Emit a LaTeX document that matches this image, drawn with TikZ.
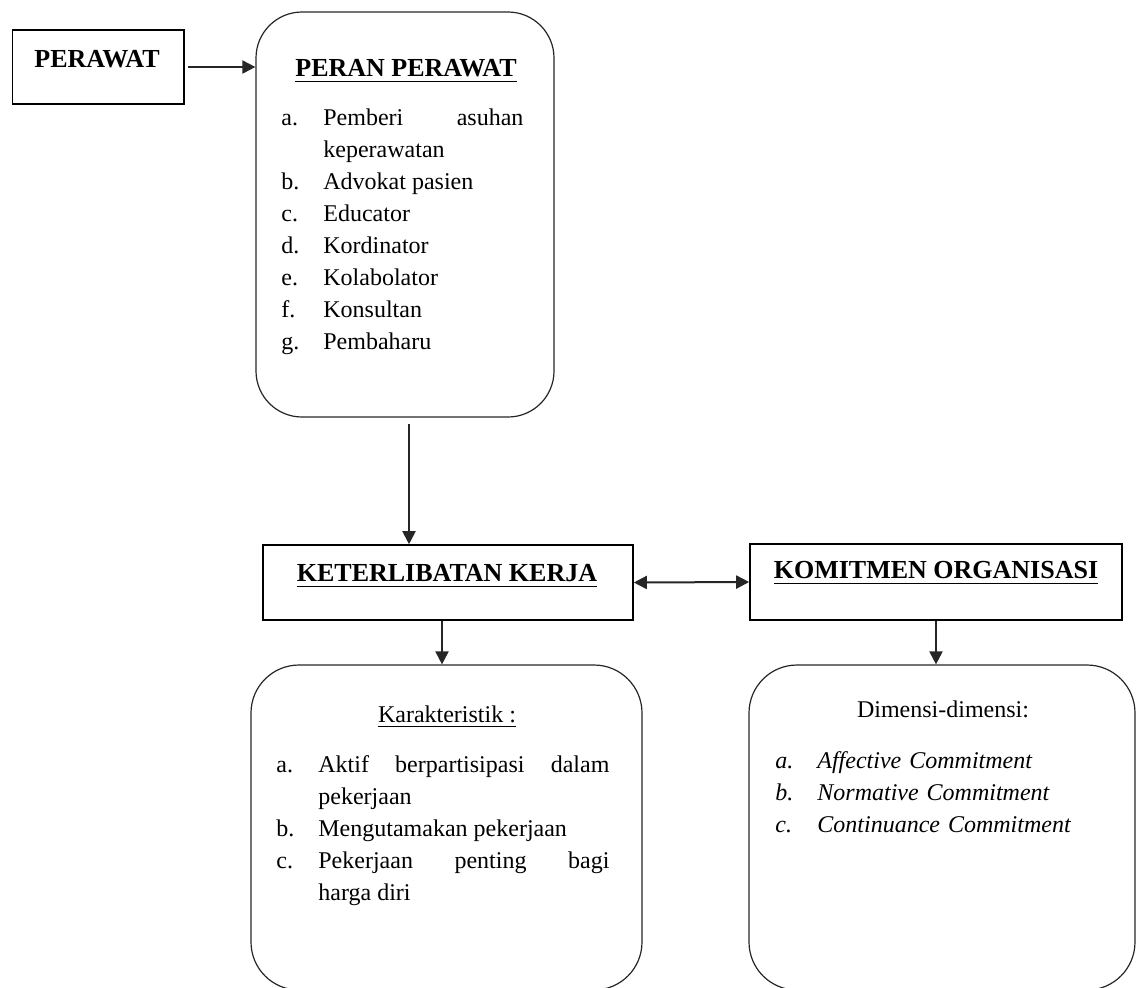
\documentclass[tikz,border=0pt]{standalone}
\usepackage{fontspec}
\setmainfont{Liberation Serif}
\usetikzlibrary{arrows.meta}
\setlength{\parskip}{0pt}

% judul bergaris bawah dan butir daftar
\newcommand{\ulhead}[2][3pt]{\setbox0\hbox{#2}\rlap{\rule[-#1]{\wd0}{0.7pt}}\box0}
\newcommand{\butir}[2]{\hangindent=21pt\hangafter=1\noindent\makebox[21pt][l]{#1}#2\par}

\begin{document}
\begin{tikzpicture}[x=0.5pt, y=-0.5pt,
    kotak/.style={draw, line width=0.8pt, inner sep=0pt},
    kotakbulat/.style={draw=black!85, line width=0.6pt, inner sep=0pt, rounded corners=23pt},
    judul/.style={font={\fontsize{13}{16}\selectfont\bfseries}, inner sep=0pt, anchor=base},
    teks/.style={font={\fontsize{12}{16}\selectfont}, inner sep=0pt},
    daftar/.style={teks, anchor=base west, align=justify, text width=#1},
    panah/.style={line width=1pt, draw=black!85, -{Triangle[length=6.5pt,width=6.5pt]}},
    panahdua/.style={panah, {Triangle[length=6.5pt,width=6.5pt]}-{Triangle[length=6.5pt,width=6.5pt]}}]
    \useasboundingbox (0,0) rectangle (1136,987);

    % Perawat dan perannya
    \node[kotak, minimum width=85.7pt, minimum height=37pt] (perawat) at (98.3,67) {};
    \node[judul] (perawatteks) at (97,67) {PERAWAT};

    \node[kotakbulat, minimum width=149pt, minimum height=202.5pt] (peran) at (405,214.5) {};
    \node[judul] (peranjudul) at (406,76) {\ulhead{PERAN PERAWAT}};
    \node[daftar=121pt] (peranisi) at (281,125) {%
        \butir{a.}{Pemberi asuhan\linebreak keperawatan}
        \butir{b.}{Advokat pasien}
        \butir{c.}{Educator}
        \butir{d.}{Kordinator}
        \butir{e.}{Kolabolator}
        \butir{f.}{Konsultan}
        \butir{g.}{Pembaharu}};

    % Keterlibatan kerja dan komitmen organisasi
    \node[kotak, minimum width=185pt, minimum height=37.5pt] (ket) at (448,582.5) {};
    \node[judul] (ketteks) at (447,581) {\ulhead{KETERLIBATAN KERJA}};

    \node[kotak, minimum width=186pt, minimum height=38pt] (komitmen) at (936,582) {};
    \node[judul] (komitmenteks) at (936,578) {\ulhead{KOMITMEN ORGANISASI}};

    % Karakteristik
    \node[kotakbulat, rounded corners=24pt, minimum width=195.5pt, minimum height=162.5pt] (karakter) at (446.5,827.5) {};
    \node[teks, anchor=base] (karakterjudul) at (447,722) {\ulhead[2.5pt]{Karakteristik :}};
    \node[daftar=166.5pt] (karakterisi) at (276,772) {%
        \butir{a.}{Aktif berpartisipasi dalam\linebreak pekerjaan}
        \butir{b.}{Mengutamakan pekerjaan}
        \butir{c.}{Pekerjaan penting bagi\linebreak harga diri}};

    % Dimensi
    \node[kotakbulat, rounded corners=24pt, minimum width=193pt, minimum height=162.5pt] (dimensi) at (942,827.5) {};
    \node[teks, anchor=base] (dimensijudul) at (943,717) {Dimensi-dimensi:};
    \node[daftar=170pt, align=left] (dimensiisi) at (775,768) {\itshape
        \butir{a.}{Affective Commitment}
        \butir{b.}{Normative Commitment}
        \butir{c.}{Continuance Commitment}};

    % Panah
    \draw[panah] ([xshift=1.5pt]perawat.east) -- (perawat.east -| peran.west);
    \draw[panah] ([xshift=2pt, yshift=-3pt]peran.south) -- ([xshift=2pt]peran.south |- ket.north);
    \draw[panahdua] (ket.east) -- (komitmen.west);
    \draw[panah] ([xshift=-3pt]ket.south) -- ([xshift=-3pt]ket.south |- karakter.north);
    \draw[panah] (komitmen.south) -- (komitmen.south |- dimensi.north);
\end{tikzpicture}
\end{document}
